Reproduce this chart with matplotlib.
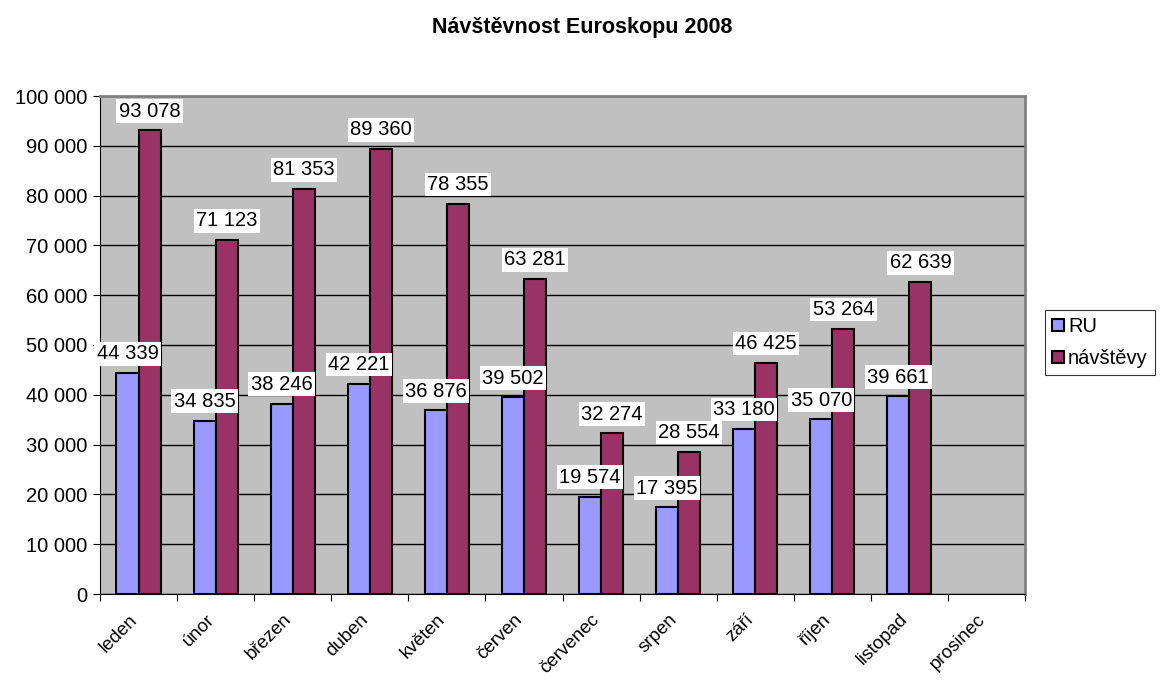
import numpy as np
import matplotlib.pyplot as plt
import matplotlib.transforms as mtransforms

plt.rcParams['font.family'] = ['Liberation Sans', 'DejaVu Sans']

months = ['leden', 'únor', 'březen', 'duben', 'květen', 'červen',
          'červenec', 'srpen', 'září', 'říjen', 'listopad', 'prosinec']
ru = [44339, 34835, 38246, 42221, 36876, 39502, 19574, 17395, 33180, 35070, 39661, None]
navstevy = [93078, 71123, 81353, 89360, 78355, 63281, 32274, 28554, 46425, 53264, 62639, None]

def fmt(v):
    return f"{v:,}".replace(",", " ")

fs = 14.5

fig = plt.figure(figsize=(11.64, 6.84), dpi=100)
ax = fig.add_axes([100/1164, 1 - 594/684, 925/1164, 498/684])
ax.set_facecolor('#C0C0C0')

x = np.arange(len(months))
w = 0.286
lbl_box = dict(boxstyle='square,pad=0.12', fc='white', ec='none')
for i in x:
    if ru[i] is not None:
        ax.bar(i - w/2, ru[i], w, color='#9999FF', edgecolor='black', linewidth=1.5, zorder=3,
               label='RU' if i == 0 else None)
        ax.annotate(fmt(ru[i]), (i - w/2, ru[i]), xytext=(0, 7), textcoords='offset points',
                    ha='center', va='bottom', fontsize=fs, zorder=5, bbox=lbl_box)
    if navstevy[i] is not None:
        ax.bar(i + w/2, navstevy[i], w, color='#993366', edgecolor='black', linewidth=1.5, zorder=3,
               label='návštěvy' if i == 0 else None)
        ax.annotate(fmt(navstevy[i]), (i + w/2, navstevy[i]), xytext=(0, 7), textcoords='offset points',
                    ha='center', va='bottom', fontsize=fs, zorder=5, bbox=lbl_box)

ax.set_xlim(-0.5, 11.5)
ax.set_ylim(0, 100000)
ax.set_yticks(np.arange(0, 100001, 10000))
ax.set_yticklabels([fmt(v) for v in range(0, 100001, 10000)], fontsize=fs)
ax.yaxis.grid(True, color='black', linewidth=1, zorder=1)
ax.set_axisbelow(True)

# tick marks between categories, month names rotated below
ax.set_xticks(np.arange(-0.5, 12, 1))
ax.set_xticklabels([])
ax.tick_params(axis='x', which='major', length=5, direction='out')
ax.tick_params(axis='y', length=5, direction='out', pad=4)
off = mtransforms.ScaledTranslation(-10/100, -17/100, fig.dpi_scale_trans)
trans = mtransforms.blended_transform_factory(ax.transData, ax.transAxes) + off
for i, m in enumerate(months):
    ax.text(i, 0, m, transform=trans, rotation=45, rotation_mode='anchor',
            ha='right', va='top', fontsize=13.5)

for s in ['top', 'right']:
    ax.spines[s].set_color('#808080')
    ax.spines[s].set_linewidth(2)
ax.spines['bottom'].set_color('black')
ax.spines['left'].set_color('black')

fig.text(0.5, 1 - 28/684, 'Návštěvnost Euroskopu 2008', ha='center', va='center',
         fontsize=15.5, fontweight='bold')

leg = fig.legend(loc='upper left', bbox_to_anchor=(1045/1164, 1 - 310/684), fontsize=fs,
                 frameon=True, fancybox=False, edgecolor='black', handlelength=0.6,
                 handleheight=0.6, handletextpad=0.2, borderaxespad=0, borderpad=0.35,
                 labelspacing=0.65)
leg.get_frame().set_linewidth(0.8)

fig.savefig('out.png', dpi=100)
